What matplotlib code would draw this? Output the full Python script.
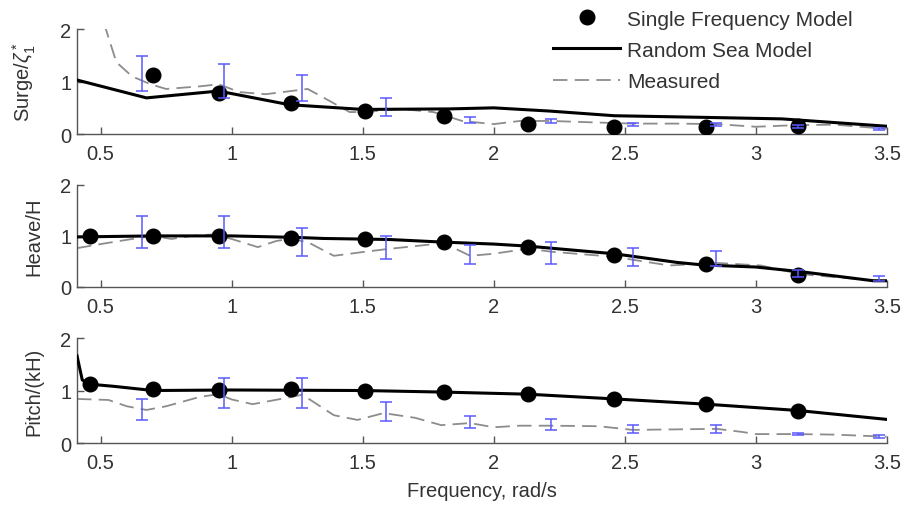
import numpy as np
import matplotlib
matplotlib.use("Agg")
import matplotlib.pyplot as plt

plt.rcParams['font.family'] = ['Liberation Sans', 'DejaVu Sans']
plt.rcParams['mathtext.fontset'] = 'custom'
plt.rcParams['mathtext.rm'] = 'Liberation Sans'
plt.rcParams['mathtext.it'] = 'Liberation Sans:italic'

# single frequency model points (same frequencies in each panel)
sf_x = [0.46, 0.70, 0.95, 1.225, 1.51, 1.81, 2.13, 2.46, 2.81, 3.16]
surge_sf = [None, 1.12, 0.78, 0.59, 0.44, 0.34, 0.19, 0.13, 0.13, 0.15]
heave_sf = [1.0, 1.0, 1.0, 0.96, 0.94, 0.88, 0.78, 0.63, 0.44, 0.24]
pitch_sf = [1.12, 1.03, 1.01, 1.03, 0.99, 0.97, 0.93, 0.84, 0.74, 0.61]

# random sea model
surge_rs_x = [0.41, 0.675, 0.95, 1.22, 1.5, 1.83, 2.0, 2.21, 2.46, 2.79, 3.1, 3.5]
surge_rs = [1.03, 0.69, 0.82, 0.56, 0.47, 0.48, 0.5, 0.44, 0.35, 0.32, 0.29, 0.15]
heave_rs_x = [0.41, 0.7, 1.0, 1.25, 1.35, 1.6, 1.8, 2.0, 2.13, 2.46, 2.7, 2.8, 3.0, 3.17, 3.45, 3.5]
heave_rs = [0.98, 1.0, 1.0, 0.97, 0.95, 0.93, 0.88, 0.84, 0.8, 0.65, 0.48, 0.43, 0.39, 0.3, 0.12, 0.12]
pitch_rs_x = [0.41, 0.43, 0.46, 0.55, 0.7, 1.0, 1.5, 1.81, 2.13, 2.46, 2.81, 3.16, 3.5]
pitch_rs = [1.66, 1.2, 1.12, 1.08, 1.0, 1.01, 1.0, 0.97, 0.93, 0.84, 0.74, 0.62, 0.45]

# measured
surge_m_x = [0.49, 0.52, 0.56, 0.62, 0.69, 0.75, 0.88, 0.95, 1.03, 1.13, 1.29, 1.36, 1.45,
             1.51, 1.64, 1.77, 1.88, 2.0, 2.1, 2.22, 2.4, 2.53, 2.7, 2.85, 3.0, 3.15, 3.3, 3.5]
surge_m = [2.5, 2.0, 1.37, 1.1, 0.95, 0.86, 0.91, 0.95, 0.8, 0.76, 0.86, 0.67, 0.42,
           0.42, 0.48, 0.42, 0.25, 0.19, 0.25, 0.25, 0.22, 0.2, 0.2, 0.19, 0.14, 0.17, 0.18, 0.1]
heave_m_x = [0.41, 0.5, 0.62, 0.7, 0.77, 0.85, 0.93, 1.0, 1.1, 1.17, 1.22, 1.29, 1.39, 1.51,
             1.59, 1.7, 1.81, 1.87, 1.91, 2.0, 2.13, 2.22, 2.46, 2.67, 2.85, 3.02, 3.17, 3.47]
heave_m = [0.76, 0.84, 0.94, 1.0, 0.94, 1.0, 1.03, 0.94, 0.78, 0.9, 0.94, 0.88, 0.61, 0.69,
           0.74, 0.8, 0.86, 0.71, 0.61, 0.65, 0.75, 0.69, 0.59, 0.42, 0.47, 0.42, 0.25, 0.12]
pitch_m_x = [0.41, 0.53, 0.6, 0.675, 0.75, 0.88, 0.95, 1.0, 1.08, 1.21, 1.27, 1.39, 1.48, 1.58,
             1.7, 1.8, 1.91, 2.0, 2.1, 2.22, 2.4, 2.53, 2.7, 2.85, 2.95, 3.0, 3.16, 3.3, 3.5]
pitch_m = [0.84, 0.82, 0.7, 0.63, 0.7, 0.88, 0.93, 0.83, 0.74, 0.86, 0.92, 0.53, 0.44, 0.57,
           0.48, 0.34, 0.38, 0.3, 0.33, 0.33, 0.32, 0.25, 0.26, 0.27, 0.21, 0.17, 0.17, 0.16, 0.12]

# error bars on the measurements
err_x = [0.657, 0.97, 1.27, 1.59, 1.91, 2.22, 2.53, 2.85, 3.16, 3.47]
surge_ec = [1.15, 1.01, 0.875, 0.52, 0.265, 0.245, 0.18, 0.18, 0.15, 0.1]
surge_eh = [0.33, 0.32, 0.245, 0.17, 0.06, 0.04, 0.03, 0.03, 0.03, 0.02]
heave_ec = [1.075, 1.075, 0.885, 0.775, 0.635, 0.665, 0.585, 0.56, 0.27, 0.17]
heave_eh = [0.315, 0.315, 0.275, 0.225, 0.185, 0.215, 0.175, 0.15, 0.07, 0.05]
pitch_ec = [0.64, 0.955, 0.955, 0.6, 0.4, 0.355, 0.265, 0.265, 0.175, 0.13]
pitch_eh = [0.2, 0.285, 0.285, 0.18, 0.11, 0.105, 0.075, 0.075, 0.025, 0.03]

xticks = [0.5, 1, 1.5, 2, 2.5, 3, 3.5]
xticklabels = ['0.5', '1', '1.5', '2', '2.5', '3', '3.5']

panels = [
    (r'Surge/$\zeta_1^*$', surge_sf, surge_rs_x, surge_rs, surge_m_x, surge_m, surge_ec, surge_eh),
    ('Heave/H', heave_sf, heave_rs_x, heave_rs, heave_m_x, heave_m, heave_ec, heave_eh),
    ('Pitch/(kH)', pitch_sf, pitch_rs_x, pitch_rs, pitch_m_x, pitch_m, pitch_ec, pitch_eh),
]
boxes = [[0.084, 0.733, 0.883, 0.2075],
         [0.084, 0.431, 0.883, 0.2016],
         [0.084, 0.1225, 0.883, 0.2075]]
label_x = [-0.048, -0.042, -0.042]

fs = 14.5
fig = plt.figure(figsize=(9.17, 5.06), dpi=100)
axes = []
for box, lx, (lab, sf, rx, ry, mx, my, ec, eh) in zip(boxes, label_x, panels):
    ax = fig.add_axes(box)
    sx = [x for x, v in zip(sf_x, sf) if v is not None]
    sy = [v for v in sf if v is not None]
    h_sf, = ax.plot(sx, sy, 'o', color='black', ms=10.5, zorder=4, linestyle='none')
    h_rs, = ax.plot(rx, ry, '-', color='black', lw=2.2, zorder=3)
    h_m, = ax.plot(mx, my, '--', color='#8c8c8c', lw=1.3, dashes=(8, 4), zorder=2)
    ax.errorbar(err_x, ec, yerr=eh, fmt='none', ecolor='#5a5aff', elinewidth=1.1,
                capsize=4.5, capthick=1.1, zorder=5)
    ax.set_xlim(0.41, 3.5)
    ax.set_ylim(0, 2)
    ax.set_yticks([0, 1, 2])
    ax.set_xticks(xticks)
    ax.set_xticklabels(xticklabels)
    ax.set_ylabel(lab, fontsize=fs, color='#333333')
    ax.yaxis.set_label_coords(lx, 0.5)
    ax.spines['top'].set_visible(False)
    ax.spines['right'].set_visible(False)
    for s in ['left', 'bottom']:
        ax.spines[s].set_color('#555555')
        ax.spines[s].set_linewidth(1.0)
    ax.tick_params(direction='in', length=5, width=1, colors='#555555',
                   labelcolor='#333333', labelsize=fs)
    ax.tick_params(axis='x', pad=7)
    ax.tick_params(axis='y', pad=4)
    axes.append(ax)

axes[2].set_xlabel('Frequency, rad/s', fontsize=fs, color='#333333', labelpad=7)

fig.legend([h_sf, h_rs, h_m], ['Single Frequency Model', 'Random Sea Model', 'Measured'],
           loc='upper left', bbox_to_anchor=(0.583, 1.016), frameon=False, fontsize=15,
           handlelength=3.2, handletextpad=0.35, labelspacing=0.58, labelcolor='#333333')

fig.savefig('out.png', dpi=100)
